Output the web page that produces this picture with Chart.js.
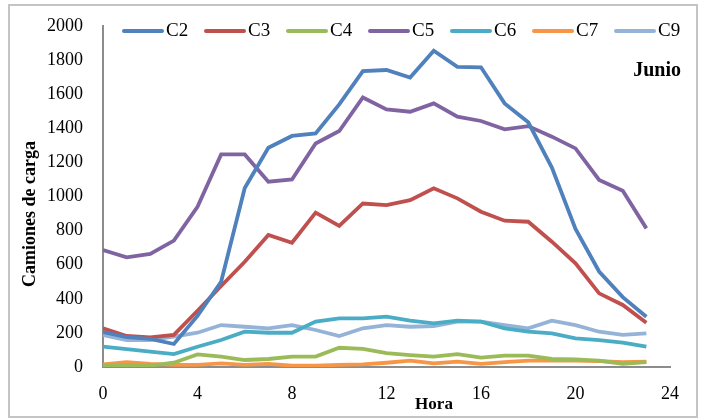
<!DOCTYPE html>
<html>
<head>
<meta charset="utf-8">
<script src="https://cdn.jsdelivr.net/npm/chart.js@4.4.0/dist/chart.umd.min.js"></script>
<style>
    html, body { margin: 0; padding: 0; background: #fff; }
    #wrap { position: relative; width: 702px; height: 419px; }
    #frame { position: absolute; left: 8px; top: 4px; width: 686px; height: 410px; border: 2px solid #c4c4c4; pointer-events: none; }
    canvas { position: absolute; left: 0; top: 0; }
</style>
</head>
<body>
<div id="wrap">
    <canvas id="chart" width="702" height="419"></canvas>
    <div id="frame"></div>
</div>
<script>
// Hora del día
const hours = [0, 1, 2, 3, 4, 5, 6, 7, 8, 9, 10, 11, 12, 13, 14, 15, 16, 17, 18, 19, 20, 21, 22, 23];

const c2 = [205, 175, 165, 135, 300, 500, 1050, 1286, 1355, 1370, 1540, 1735, 1742, 1698, 1855, 1760, 1758, 1546, 1435, 1170, 810, 560, 410, 295];
const c3 = [227, 182, 174, 188, 330, 475, 617, 774, 729, 905, 827, 959, 950, 979, 1048, 989, 911, 858, 852, 735, 608, 432, 364, 260];
const c4 = [8, 13, 8, 25, 74, 61, 41, 47, 61, 61, 113, 106, 82, 70, 61, 76, 55, 67, 67, 47, 45, 37, 18, 28];
const c5 = [686, 643, 663, 741, 940, 1247, 1247, 1087, 1100, 1311, 1384, 1581, 1511, 1497, 1546, 1468, 1443, 1394, 1413, 1351, 1282, 1097, 1034, 813];
const c6 = [119, 105, 90, 76, 119, 158, 207, 201, 201, 266, 285, 285, 295, 272, 256, 272, 266, 227, 207, 197, 168, 158, 143, 119];
const c7 = [15, 28, 18, 13, 13, 21, 13, 18, 8, 8, 13, 15, 25, 37, 21, 31, 18, 28, 37, 37, 37, 35, 28, 31];
const c9 = [188, 158, 158, 178, 201, 246, 236, 227, 246, 217, 182, 227, 245, 236, 240, 266, 266, 246, 227, 272, 246, 207, 188, 197];

const seriesNames = ['C2', 'C3', 'C4', 'C5', 'C6', 'C7', 'C9'];
const seriesValues = [c2, c3, c4, c5, c6, c7, c9];
const seriesColors = ['#4F81BD', '#C0504D', '#9BBB59', '#8064A2', '#4BACC6', '#F79646', '#95B3D7'];

const xTicks = [0, 4, 8, 12, 16, 20, 24];
const yTicks = [0, 200, 400, 600, 800, 1000, 1200, 1400, 1600, 1800, 2000];

const serif = "'Liberation Serif', 'Times New Roman', serif";

const datasets = seriesNames.map((name, i) => ({
    label: name,
    data: hours.map((h, j) => ({ x: h, y: seriesValues[i][j] })),
    borderColor: seriesColors[i],
    backgroundColor: seriesColors[i],
    borderWidth: 3.8,
    pointRadius: 0,
    tension: 0,
    fill: false
}));

// leyenda, título "Junio" y títulos de ejes
const extrasPlugin = {
    id: 'extras',
    afterDraw(chart) {
        const ctx = chart.ctx;
        ctx.save();
        // leyenda
        ctx.font = `19px ${serif}`;
        ctx.textBaseline = 'middle';
        ctx.textAlign = 'left';
        let x = 124;
        seriesNames.forEach((name, i) => {
            ctx.strokeStyle = seriesColors[i];
            ctx.lineWidth = 4;
            ctx.lineCap = 'round';
            ctx.beginPath();
            ctx.moveTo(x, 31);
            ctx.lineTo(x + 38, 31);
            ctx.stroke();
            ctx.fillStyle = '#000';
            ctx.fillText(name, x + 42, 31);
            x += 82;
        });
        // Junio
        ctx.font = `bold 20px ${serif}`;
        ctx.textAlign = 'right';
        ctx.fillText('Junio', 681, 71);
        // Hora
        ctx.font = `bold 17px ${serif}`;
        ctx.textAlign = 'center';
        ctx.fillText('Hora', 434, 405);
        // eje Y
        ctx.font = `bold 18px ${serif}`;
        ctx.translate(30, 214);
        ctx.rotate(-Math.PI / 2);
        ctx.fillText('Camiones de carga', 0, 0);
        ctx.restore();
    }
};

new Chart(document.getElementById('chart'), {
    type: 'line',
    data: { datasets },
    options: {
        responsive: false,
        animation: false,
        layout: { padding: { left: 0, right: 32, top: 26, bottom: 0 } },
        plugins: {
            legend: { display: false },
            tooltip: { enabled: false }
        },
        scales: {
            x: {
                type: 'linear',
                min: 0,
                max: 24,
                afterBuildTicks: scale => { scale.ticks = xTicks.map(v => ({ value: v })); },
                afterFit: scale => { scale.height = 52; },
                grid: { display: false, drawTicks: false },
                border: { display: true, color: '#8c8c8c', width: 2 },
                ticks: { padding: 16, color: '#000', font: { family: serif, size: 18 }, callback: v => String(v) }
            },
            y: {
                min: 0,
                max: 2000,
                afterBuildTicks: scale => { scale.ticks = yTicks.map(v => ({ value: v })); },
                afterFit: scale => { scale.width = 103; scale.paddingTop = 0; scale.paddingBottom = 0; },
                grid: { display: false, drawTicks: false },
                border: { display: true, color: '#8c8c8c', width: 2 },
                ticks: { padding: 20, color: '#000', font: { family: serif, size: 18 }, callback: v => String(v) }
            }
        }
    },
    plugins: [extrasPlugin]
});
</script>
</body>
</html>
